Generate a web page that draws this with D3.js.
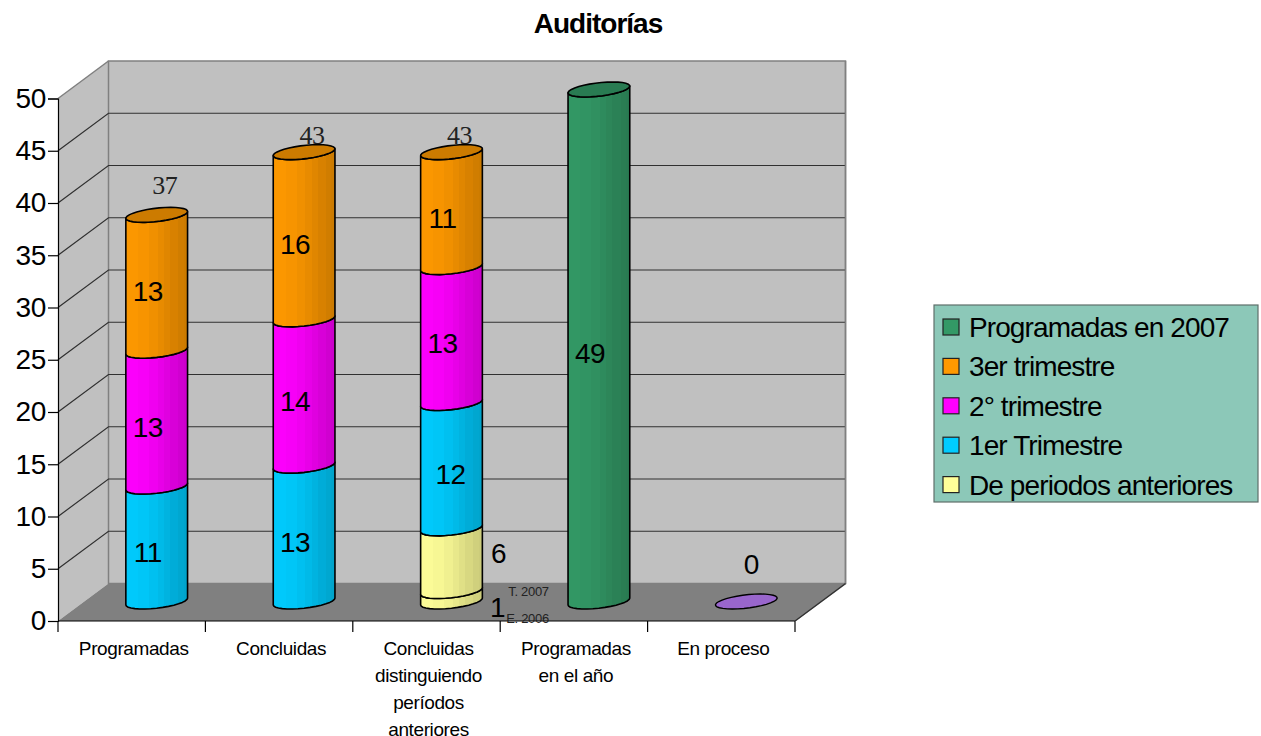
<!DOCTYPE html>
<html lang="es">
<head>
<meta charset="utf-8">
<title>Auditorías</title>
<script src="https://cdn.jsdelivr.net/npm/d3@7"></script>
<style>
  html, body { margin: 0; background: #fff; }
  svg { display: block; }
  text { font-family: "Liberation Sans", Arial, sans-serif; fill: #000; }
  .cat { font-size: 19px; letter-spacing: -0.4px; }
  .tick-label { font-size: 28px; letter-spacing: -0.3px; }
  .value { font-size: 28px; letter-spacing: -0.6px; }
  .total { font-family: "Liberation Serif", "Times New Roman", serif; font-size: 26px; fill: #222; letter-spacing: -0.5px; }
  .note { font-size: 13px; letter-spacing: -0.3px; fill: #222; }
  .legend-label { font-size: 28px; letter-spacing: -0.9px; }
</style>
</head>
<body>
<div id="chart"></div>
<script>
(function () {
    "use strict";

    // ---- data ---------------------------------------------------
    const categories = [
        ["Programadas"],
        ["Concluidas"],
        ["Concluidas", "distinguiendo", "períodos", "anteriores"],
        ["Programadas", "en el año"],
        ["En proceso"]
    ];
    const previousE2006 = [0, 0, 1, 0, 0];
    const previousT2007 = [0, 0, 6, 0, 0];
    const quarter1 = [11, 13, 12, 0, 0];
    const quarter2 = [13, 14, 13, 0, 0];
    const quarter3 = [13, 16, 11, 0, 0];
    const planned2007 = [0, 0, 0, 49, 0];
    const inProgress = [0, 0, 0, 0, 0];
    const totals = [37, 43, 43, null, null];
    const yTicks = [0, 5, 10, 15, 20, 25, 30, 35, 40, 45, 50];
    const legendLabels = ["Programadas en 2007", "3er trimestre", "2° trimestre", "1er Trimestre", "De periodos anteriores"];

    const COLORS = {
        previous: "#ffff99",
        q1: "#00ccff",
        q2: "#ff00ff",
        q3: "#ff9900",
        planned: "#339966",
        progress: "#9966cc"
    };
    const legendColors = [COLORS.planned, COLORS.q3, COLORS.q2, COLORS.q1, COLORS.previous];

    const seriesList = [
        { key: "prevE", values: previousE2006, color: COLORS.previous, label: false },
        { key: "prevT", values: previousT2007, color: COLORS.previous, label: false },
        { key: "q1", values: quarter1, color: COLORS.q1, label: true },
        { key: "q2", values: quarter2, color: COLORS.q2, label: true },
        { key: "q3", values: quarter3, color: COLORS.q3, label: true },
        { key: "planned", values: planned2007, color: COLORS.planned, label: true }
    ];

    // ---- layout -------------------------------------------------
    const width = 1261, height = 736;
    const plot = { left: 58, right: 795, top: 98.5, bottom: 621 };
    const depth = { x: 50.5, y: 37.5 };   // front edge -> back wall
    const barShift = { x: 25, y: 19.5 };  // bars stand half way into the floor

    const x = d3.scaleBand().domain(d3.range(categories.length)).range([plot.left, plot.right]);
    const y = d3.scaleLinear().domain([0, 50]).range([plot.bottom, plot.top]);

    const svg = d3.select("#chart").append("svg")
        .attr("width", width)
        .attr("height", height)
        .attr("viewBox", [0, 0, width, height]);

    const defs = svg.append("defs");

    // ---- cylinder shading ---------------------------------------
    // vertical bands going darker to the right, with two thin lighter seams
    function addGradient(id, color) {
        const dark = d3.rgb(color).darker(0.62);
        const mix = d3.interpolateRgb(color, dark);
        const grad = defs.append("linearGradient").attr("id", id);
        const bands = [[0, 0.08], [0.2, 0.16], [0.38, 0.3], [0.52, 0.45], [0.62, 0.62], [0.72, 0.78], [0.85, 0.92], [0.94, 1], [1, 1]];
        bands.forEach((b, i) => {
            grad.append("stop").attr("offset", b[0]).attr("stop-color", mix(b[1]));
            if (i < bands.length - 1) {
                grad.append("stop").attr("offset", bands[i + 1][0]).attr("stop-color", mix(b[1]));
            }
        });
    }
    Object.keys(COLORS).forEach(k => addGradient("cyl-" + k, COLORS[k]));
    const gradientOf = color => "url(#cyl-" + Object.keys(COLORS).find(k => COLORS[k] === color) + ")";

    // ---- walls and floor ----------------------------------------
    const back = { left: plot.left + depth.x, right: plot.right + depth.x };
    const wallColor = "#c0c0c0", edgeColor = "#808080";
    const line = d3.line();

    svg.append("path")
        .attr("d", line([[plot.left, y(50)], [back.left, y(50) - depth.y], [back.left, plot.bottom - depth.y], [plot.left, plot.bottom]]) + "Z")
        .attr("fill", wallColor);
    svg.append("rect")
        .attr("x", back.left).attr("y", y(50) - depth.y)
        .attr("width", back.right - back.left)
        .attr("height", plot.bottom - y(50))
        .attr("fill", wallColor)
        .attr("stroke", edgeColor).attr("stroke-width", 1.5);
    svg.append("path")
        .attr("d", line([[plot.left, plot.bottom], [back.left, plot.bottom - depth.y], [back.right, plot.bottom - depth.y], [plot.right, plot.bottom]]) + "Z")
        .attr("fill", edgeColor);
    svg.append("path")
        .attr("d", line([[plot.left, y(50)], [back.left, y(50) - depth.y]]))
        .attr("stroke", edgeColor).attr("stroke-width", 1.5);

    // gridlines run across the back wall and down the side wall
    const grid = yTicks.filter(t => t > 0 && t < 50);
    svg.append("g").selectAll("path").data(grid).join("path")
        .attr("d", t => line([[plot.left, y(t)], [back.left, y(t) - depth.y], [back.right, y(t) - depth.y]]))
        .attr("fill", "none")
        .attr("stroke", "#303030")
        .attr("stroke-width", 1.2);

    // ---- axes ---------------------------------------------------
    const yAxis = svg.append("g")
        .attr("transform", `translate(${plot.left},0)`)
        .call(d3.axisLeft(y).tickValues(yTicks).tickSize(10).tickPadding(2).tickFormat(d3.format("d")));
    yAxis.select(".domain").attr("stroke", "#000").attr("stroke-width", 1.2);
    yAxis.selectAll(".tick line").attr("stroke", "#000").attr("stroke-width", 1.2);
    yAxis.selectAll("text").attr("class", "tick-label").attr("fill", "#000");

    const xAxis = svg.append("g")
        .attr("transform", `translate(0,${plot.bottom})`)
        .attr("stroke", "#000");
    xAxis.append("line")
        .attr("x1", plot.left).attr("x2", plot.right)
        .attr("stroke-width", 1.2);
    xAxis.selectAll("line.tick").data(d3.range(categories.length + 1)).join("line")
        .attr("class", "tick")
        .attr("x1", i => plot.left + i * x.bandwidth())
        .attr("x2", i => plot.left + i * x.bandwidth())
        .attr("y2", 11)
        .attr("stroke-width", 1.2);
    svg.append("path")
        .attr("d", line([[plot.right, plot.bottom], [back.right, plot.bottom - depth.y], [back.right, y(50) - depth.y]]))
        .attr("fill", "none").attr("stroke", edgeColor).attr("stroke-width", 1.5);
    svg.append("path")
        .attr("d", line([[plot.right, plot.bottom], [back.right, plot.bottom - depth.y]]))
        .attr("fill", "none").attr("stroke", "#303030").attr("stroke-width", 1.2);

    svg.append("g").selectAll("text").data(categories).join("text")
        .attr("class", "cat")
        .attr("text-anchor", "middle")
        .attr("transform", (d, i) => `translate(${x(i) + x.bandwidth() / 2 + 2},655)`)
        .selectAll("tspan").data(d => d).join("tspan")
        .attr("x", 0)
        .attr("dy", (d, i) => i ? 27 : 0)
        .text(d => d);

    // ---- totals go under the bars, the caps overlap their digits -
    svg.append("g").selectAll("text").data(totals.map((v, i) => ({ v, i })).filter(d => d.v !== null)).join("text")
        .attr("class", "total")
        .attr("text-anchor", "middle")
        .attr("x", d => x(d.i) + x.bandwidth() / 2 + 33)
        .attr("y", d => d.i === 0 ? y(d.v) - 40 : y(d.v) - 28)
        .text(d => d.v);

    // ---- cylinders ----------------------------------------------
    // a floor-plane circle seen in the oblique projection: skewed ellipse
    const ring = { ax: 27.5, bx: 14, by: 7.5 };
    const pointAt = (cx, cy, t) => [
        cx + ring.ax * Math.cos(t) + ring.bx * Math.sin(t),
        cy - ring.by * Math.sin(t)
    ];
    const tRight = Math.atan2(ring.bx, ring.ax);
    const frontArc = (cx, cy) => d3.range(0, 17).map(i => pointAt(cx, cy, tRight - i * Math.PI / 16));
    const cap = (cx, cy) => d3.range(0, 32).map(i => pointAt(cx, cy, i * Math.PI / 16));

    const stack = d3.stack()
        .keys(seriesList.map(s => s.key))
        .value((row, key) => seriesList.find(s => s.key === key).values[row]);
    const stacked = stack(d3.range(categories.length));

    const centerX = i => x(i) + x.bandwidth() / 2 + barShift.x;
    const planeY = v => y(v) - barShift.y;

    const segments = [];
    stacked.forEach((layer, s) => {
        layer.forEach((d, i) => {
            if (d[1] > d[0]) segments.push({ i, y0: d[0], y1: d[1], series: seriesList[s] });
        });
    });

    const barG = svg.append("g");
    barG.selectAll("path.seg").data(segments).join("path")
        .attr("class", "seg")
        .attr("d", d => {
            const cx = centerX(d.i);
            const lower = frontArc(cx, planeY(d.y0));
            const upper = frontArc(cx, planeY(d.y1)).reverse();
            return line(lower.concat(upper)) + "Z";
        })
        .attr("fill", d => gradientOf(d.series.color))
        .attr("stroke", "#000")
        .attr("stroke-width", 1.6)
        .attr("stroke-linejoin", "round");

    // only the top segment of each stack shows its lid
    const tops = d3.rollups(segments, v => d3.greatest(v, s => s.y1), s => s.i).map(e => e[1]);
    barG.selectAll("path.cap").data(tops).join("path")
        .attr("class", "cap")
        .attr("d", d => line(cap(centerX(d.i), planeY(d.y1))) + "Z")
        .attr("fill", d => d3.rgb(d.series.color).darker(0.62))
        .attr("stroke", "#000")
        .attr("stroke-width", 1.6);

    // empty series: just a flat disc on the floor
    barG.selectAll("path.empty").data(inProgress.map((v, i) => ({ v, i })).filter(d => d.i === 4)).join("path")
        .attr("class", "empty")
        .attr("d", d => line(cap(centerX(d.i), planeY(d.v))) + "Z")
        .attr("fill", COLORS.progress)
        .attr("stroke", "#000")
        .attr("stroke-width", 1.4);

    // ---- value labels -------------------------------------------
    const labelled = segments.filter(s => s.series.label);
    svg.append("g").selectAll("text").data(labelled).join("text")
        .attr("class", "value")
        .attr("text-anchor", "middle")
        .attr("x", d => centerX(d.i) - (d.series.key === "q1" && d.i === 2 ? 1 : 9))
        .attr("y", d => planeY((d.y0 + d.y1) / 2) + 18)
        .text(d => d.y1 - d.y0);

    // the older periods are labelled beside the bar, with small captions
    const side = x(2) + x.bandwidth() / 2 + barShift.x + 47;
    const sideLabels = [
        { text: previousT2007[2], cls: "value", dx: 0, v: previousE2006[2] + previousT2007[2] / 2, dy: 3 },
        { text: previousE2006[2], cls: "value", dx: -1, v: previousE2006[2] / 2, dy: 21 },
        { text: "T. 2007", cls: "note", dx: 30, v: previousE2006[2] + previousT2007[2] / 2, dy: 36 },
        { text: "E. 2006", cls: "note", dx: 29, v: previousE2006[2] / 2, dy: 27 }
    ];
    svg.append("g").selectAll("text").data(sideLabels).join("text")
        .attr("class", d => d.cls)
        .attr("text-anchor", "middle")
        .attr("x", d => side + d.dx)
        .attr("y", d => planeY(d.v) + d.dy)
        .text(d => d.text);

    svg.append("text")
        .attr("class", "value")
        .attr("text-anchor", "middle")
        .attr("x", centerX(4) + 5)
        .attr("y", planeY(inProgress[4]) - 28)
        .text(inProgress[4]);

    // ---- title --------------------------------------------------
    svg.append("text")
        .attr("x", 598).attr("y", 33)
        .attr("text-anchor", "middle")
        .attr("font-size", 28)
        .attr("font-weight", "bold")
        .attr("letter-spacing", -1)
        .text("Auditorías");

    // ---- legend -------------------------------------------------
    const legend = svg.append("g").attr("transform", "translate(934,305)");
    legend.append("rect")
        .attr("width", 324).attr("height", 197)
        .attr("fill", "#8cc8b8")
        .attr("stroke", "#5f6f6a").attr("stroke-width", 1.2);
    const row = legend.selectAll("g").data(legendLabels).join("g")
        .attr("transform", (d, i) => `translate(0,${22 + i * 39.4})`);
    row.append("rect")
        .attr("x", 9).attr("y", -8)
        .attr("width", 16).attr("height", 16)
        .attr("fill", (d, i) => legendColors[i])
        .attr("stroke", "#222").attr("stroke-width", 1.2);
    row.append("text")
        .attr("class", "legend-label")
        .attr("x", 35).attr("y", 10)
        .text(d => d);
})();
</script>
</body>
</html>
